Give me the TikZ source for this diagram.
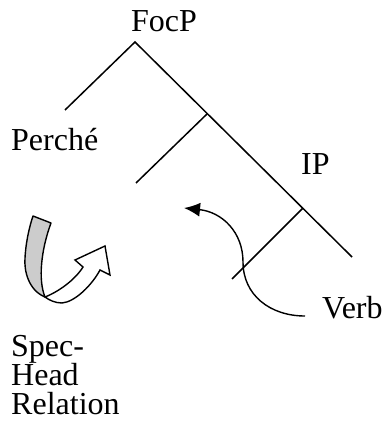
\documentclass[tikz,border=0pt]{standalone}
\usepackage{fontspec}
\setmainfont{Liberation Serif}
\usetikzlibrary{arrows.meta}
\begin{document}
\begin{tikzpicture}[x=1pt,y=-1pt,
  lbl/.style={anchor=base west,inner sep=0pt,font=\fontsize{32}{32}\selectfont},
  branch/.style={line width=1.5pt},
  ribbon/.style={line width=1.4pt,fill=gray!40,line join=round},
  blockarrow/.style={line width=1.4pt,fill=white,line join=miter},
  movearrow/.style={line width=1.4pt,-{Latex[length=16pt,width=14pt]}}]
\useasboundingbox (0,0) rectangle (389,427);
% labels
\node[lbl] (focp) at (131,32) {FocP};
\node[lbl] (perche) at (11,151) {Perché};
\node[lbl] (ip) at (301,175) {IP};
\node[lbl] (verb) at (322,318) {Verb};
\node[lbl] (spec) at (11,356) {Spec-};
\node[lbl] (head) at (11,385) {Head};
\node[lbl] (rel) at (11,414) {Relation};
% tree
\coordinate (apex) at (135,42);
\coordinate (leftend) at (65,110);
\coordinate (rightend) at (352,257);
\coordinate (b1) at (207,114);
\coordinate (b1end) at (136,183);
\coordinate (b2) at (303,208);
\coordinate (b2end) at (232,279);
\draw[branch] (leftend) -- (apex) -- (rightend);
\draw[branch] (b1) -- (b1end);
\draw[branch] (b2) -- (b2end);
% verb movement arrow
\coordinate (vstart) at (305,316);
\coordinate (vmid) at (243,262);
\coordinate (vtip) at (184,208);
\draw[movearrow] (vstart) .. controls (270,316) and (243,295) .. (vmid)
  .. controls (243,232) and (222,212) .. (vtip);
% spec-head relation symbol
\coordinate (rb) at (45,297);
\draw[blockarrow] (rb) .. controls (58,292) and (75,280) .. (83,267) -- (75,260)
  -- (105,246) -- (110,275) -- (100,270)
  .. controls (92,285) and (75,302) .. (62,303)
  .. controls (55,303) and (49,300) .. (rb) -- cycle;
\draw[ribbon] (33,216) -- (51,223) .. controls (41,250) and (38,280) .. (rb)
  .. controls (28,290) and (24,270) .. (25,258)
  .. controls (26,240) and (30,225) .. (33,216) -- cycle;
\end{tikzpicture}
\end{document}
